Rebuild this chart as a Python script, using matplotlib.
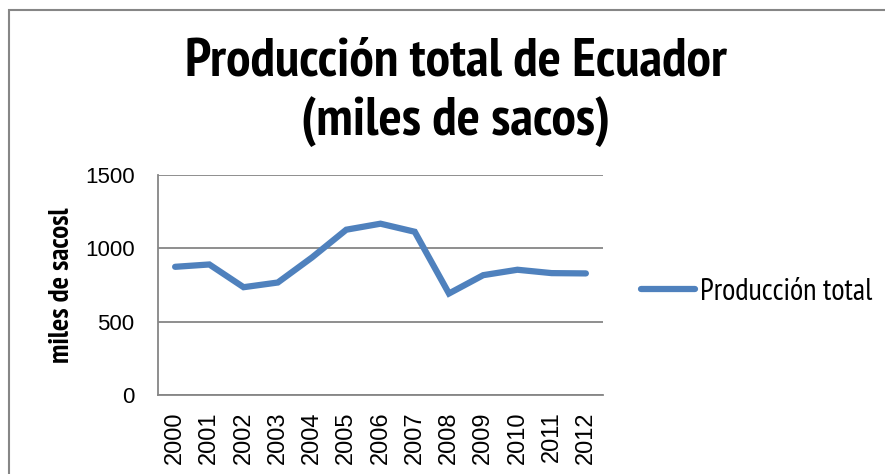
import matplotlib
matplotlib.use("Agg")
import matplotlib.pyplot as plt
from matplotlib.patches import Rectangle

years = ["2000", "2001", "2002", "2003", "2004", "2005", "2006",
         "2007", "2008", "2009", "2010", "2011", "2012"]
produccion = [874, 890, 735, 767, 938, 1127, 1168, 1113, 692, 817, 854, 831, 829]
yticks = [0, 500, 1000, 1500]

NAR = ["PT Sans Narrow", "DejaVu Sans"]
ARI = ["Liberation Sans", "DejaVu Sans"]

W, H = 885, 474
fig = plt.figure(figsize=(W / 100, H / 100), dpi=100)
fig.patch.set_facecolor("white")

fig.add_artist(Rectangle((9 / W, -0.05), 1.0, 1 - 10 / H + 0.05,
                         transform=fig.transFigure, fill=False,
                         edgecolor="#868686", linewidth=1.5))

ax = fig.add_axes([158 / W, 1 - 395 / H, (603 - 158) / W, (395 - 175) / H])
x = list(range(len(years)))
line, = ax.plot(x, produccion, color="#4F81BD", linewidth=4.5,
                solid_joinstyle="miter", solid_capstyle="round",
                label="Producción total")
ax.set_xlim(-0.5, len(years) - 0.5)
ax.set_ylim(0, 1500)
ax.set_yticks(yticks)
ax.set_yticklabels([str(v) for v in yticks], fontsize=16, family=ARI)
ax.set_xticks(x)
ax.set_xticklabels(years, rotation=90, fontsize=17, family=ARI)
ax.tick_params(length=0)
ax.tick_params(axis="x", pad=12)
ax.tick_params(axis="y", pad=17)
ax.grid(axis="y", color="#868686", linewidth=1.3)
ax.set_axisbelow(True)
for s in ["top", "right"]:
    ax.spines[s].set_visible(False)
for s in ["left", "bottom"]:
    ax.spines[s].set_color("#868686")
    ax.spines[s].set_linewidth(1.3)

ax.set_ylabel("miles de sacosl", fontsize=21, fontweight="bold",
              family=NAR, labelpad=7)

fig.text(456 / W, 1 - 62 / H, "Producción total de Ecuador", ha="center",
         va="center", fontsize=39.5, fontweight="bold", family=NAR)
fig.text(456 / W, 1 - 122 / H, "(miles de sacos)", ha="center",
         va="center", fontsize=39.5, fontweight="bold", family=NAR)

fig.legend(handles=[line], loc="center left",
           bbox_to_anchor=(641 / W, 1 - 292 / H), frameon=False,
           prop={"family": NAR, "size": 22}, handlelength=1.77,
           handletextpad=0.16, borderaxespad=0, borderpad=0)

fig.savefig("out.png", dpi=100)
